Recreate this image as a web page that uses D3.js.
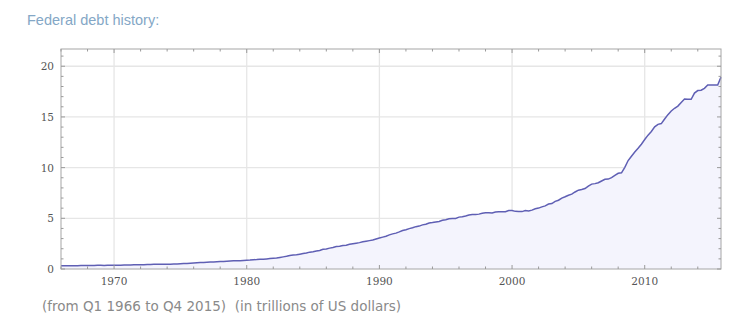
<!DOCTYPE html>
<html>
<head>
<meta charset="utf-8">
<script src="https://cdn.jsdelivr.net/npm/d3@7"></script>
<style>
body { margin: 0; background: #fff; }
</style>
</head>
<body>
<div class="chart"></div>
<script>
// quarterly federal debt, trillions of US dollars, Q1 1966 .. Q4 2015
var startYear = 1966;
var debt = [
    0.320, 0.317, 0.324, 0.329,
    0.330, 0.322, 0.339, 0.345,
    0.347, 0.348, 0.357, 0.358,
    0.360, 0.353, 0.362, 0.368,
    0.371, 0.371, 0.381, 0.389,
    0.391, 0.398, 0.412, 0.424,
    0.428, 0.427, 0.436, 0.449,
    0.458, 0.458, 0.466, 0.469,
    0.474, 0.475, 0.482, 0.492,
    0.510, 0.533, 0.554, 0.576,
    0.600, 0.621, 0.634, 0.653,
    0.672, 0.684, 0.698, 0.718,
    0.739, 0.752, 0.771, 0.789,
    0.806, 0.812, 0.826, 0.845,
    0.863, 0.876, 0.907, 0.930,
    0.964, 0.971, 0.997, 1.028,
    1.061, 1.079, 1.142, 1.197,
    1.250, 1.323, 1.377, 1.410,
    1.463, 1.518, 1.572, 1.663,
    1.710, 1.779, 1.823, 1.945,
    1.973, 2.059, 2.125, 2.214,
    2.250, 2.309, 2.350, 2.432,
    2.487, 2.547, 2.602, 2.684,
    2.740, 2.799, 2.857, 2.953,
    3.052, 3.143, 3.233, 3.365,
    3.466, 3.538, 3.665, 3.802,
    3.881, 3.984, 4.065, 4.177,
    4.230, 4.352, 4.411, 4.536,
    4.576, 4.645, 4.693, 4.800,
    4.864, 4.951, 4.974, 4.989,
    5.118, 5.161, 5.225, 5.329,
    5.381, 5.376, 5.413, 5.502,
    5.543, 5.548, 5.526, 5.614,
    5.651, 5.638, 5.656, 5.776,
    5.773, 5.686, 5.674, 5.662,
    5.774, 5.727, 5.807, 5.943,
    6.006, 6.126, 6.228, 6.405,
    6.460, 6.670, 6.783, 6.998,
    7.131, 7.274, 7.379, 7.596,
    7.777, 7.836, 7.933, 8.170,
    8.371, 8.420, 8.507, 8.680,
    8.849, 8.867, 9.008, 9.229,
    9.437, 9.492, 10.025, 10.700,
    11.127, 11.545, 11.910, 12.311,
    12.773, 13.202, 13.562, 14.025,
    14.270, 14.343, 14.790, 15.223,
    15.582, 15.856, 16.066, 16.433,
    16.771, 16.738, 16.738, 17.352,
    17.602, 17.633, 17.824, 18.141,
    18.152, 18.152, 18.153, 18.922
];
var xTicks = [1970, 1980, 1990, 2000, 2010];
var yTicks = [0, 5, 10, 15, 20];
var title = "Federal debt history:";
var footnote = "(from Q1 1966 to Q4 2015)  (in trillions of US dollars)";

var width = 756, height = 331;
var plot = {left: 61, right: 721, top: 49, bottom: 269};

var points = debt.map(function (d, i) {
    return {t: startYear + i / 4, v: d};
});

var x = d3.scaleLinear()
    .domain([startYear, startYear + (debt.length - 1) / 4])
    .range([plot.left, plot.right]);
var y = d3.scaleLinear()
    .domain([0, 21.7])
    .range([plot.bottom, plot.top]);

var svg = d3.select("div.chart")
    .append("svg")
    .attr("width", width)
    .attr("height", height);

// title
svg.append("text")
    .attr("x", 27)
    .attr("y", 25)
    .style("font-family", "Liberation Sans, Arial, sans-serif")
    .style("font-size", "14.5px")
    .style("fill", "#84a7c6")
    .text(title);

// grid
svg.append("g").selectAll("line")
    .data(xTicks)
    .enter().append("line")
    .attr("x1", function (d) { return x(d); })
    .attr("x2", function (d) { return x(d); })
    .attr("y1", plot.top)
    .attr("y2", plot.bottom)
    .style("stroke", "#e6e6e6")
    .style("stroke-width", 1.3);
svg.append("g").selectAll("line")
    .data(yTicks.filter(function (d) { return d > 0; }))
    .enter().append("line")
    .attr("x1", plot.left)
    .attr("x2", plot.right)
    .attr("y1", function (d) { return y(d); })
    .attr("y2", function (d) { return y(d); })
    .style("stroke", "#e6e6e6")
    .style("stroke-width", 1.3);

// area + line
var area = d3.area()
    .x(function (d) { return x(d.t); })
    .y0(y(0))
    .y1(function (d) { return y(d.v); });
var line = d3.line()
    .x(function (d) { return x(d.t); })
    .y(function (d) { return y(d.v); });

svg.append("path")
    .datum(points)
    .attr("d", area)
    .style("fill", "#f4f4fd");
svg.append("path")
    .datum(points)
    .attr("d", line)
    .style("fill", "none")
    .style("stroke", "#5f5fb4")
    .style("stroke-width", 1.5);

// frame
svg.append("rect")
    .attr("x", plot.left)
    .attr("y", plot.top)
    .attr("width", plot.right - plot.left)
    .attr("height", plot.bottom - plot.top)
    .style("fill", "none")
    .style("stroke", "#a6a6a6")
    .style("stroke-width", 1);

// minor ticks, inward
var xMinor = d3.range(1966, 2016, 2);
var yMinor = d3.range(0, 22, 1);
var tickColor = "#9a9a9a";

svg.append("g").selectAll("line")
    .data(xMinor)
    .enter().append("line")
    .attr("x1", function (d) { return x(d); })
    .attr("x2", function (d) { return x(d); })
    .attr("y1", plot.bottom)
    .attr("y2", function (d) { return plot.bottom - (d % 10 == 0 ? 4 : 2.5); })
    .style("stroke", tickColor);
svg.append("g").selectAll("line")
    .data(xMinor)
    .enter().append("line")
    .attr("x1", function (d) { return x(d); })
    .attr("x2", function (d) { return x(d); })
    .attr("y1", plot.top)
    .attr("y2", function (d) { return plot.top + (d % 10 == 0 ? 4 : 2.5); })
    .style("stroke", tickColor);
svg.append("g").selectAll("line")
    .data(yMinor)
    .enter().append("line")
    .attr("x1", plot.left)
    .attr("x2", function (d) { return plot.left + (d % 5 == 0 ? 4 : 2.5); })
    .attr("y1", function (d) { return y(d); })
    .attr("y2", function (d) { return y(d); })
    .style("stroke", tickColor);
svg.append("g").selectAll("line")
    .data(yMinor)
    .enter().append("line")
    .attr("x1", plot.right)
    .attr("x2", function (d) { return plot.right - (d % 5 == 0 ? 4 : 2.5); })
    .attr("y1", function (d) { return y(d); })
    .attr("y2", function (d) { return y(d); })
    .style("stroke", tickColor);

// tick labels
var labelFont = "DejaVu Serif, serif";
svg.append("g").selectAll("text")
    .data(xTicks)
    .enter().append("text")
    .attr("x", function (d) { return x(d); })
    .attr("y", plot.bottom + 16)
    .attr("text-anchor", "middle")
    .style("font-family", labelFont)
    .style("font-size", "10.5px")
    .style("fill", "#555")
    .text(function (d) { return d; });
svg.append("g").selectAll("text")
    .data(yTicks)
    .enter().append("text")
    .attr("x", plot.left - 7)
    .attr("y", function (d) { return y(d) + 4; })
    .attr("text-anchor", "end")
    .style("font-family", labelFont)
    .style("font-size", "10.5px")
    .style("fill", "#555")
    .text(function (d) { return d; });

// footnote
svg.append("text")
    .attr("x", 42)
    .attr("y", 311)
    .style("font-family", "DejaVu Sans, sans-serif")
    .style("font-size", "13.5px")
    .style("fill", "#8a8a8a")
    .style("white-space", "pre")
    .attr("xml:space", "preserve")
    .text(footnote);
</script>
</body>
</html>
